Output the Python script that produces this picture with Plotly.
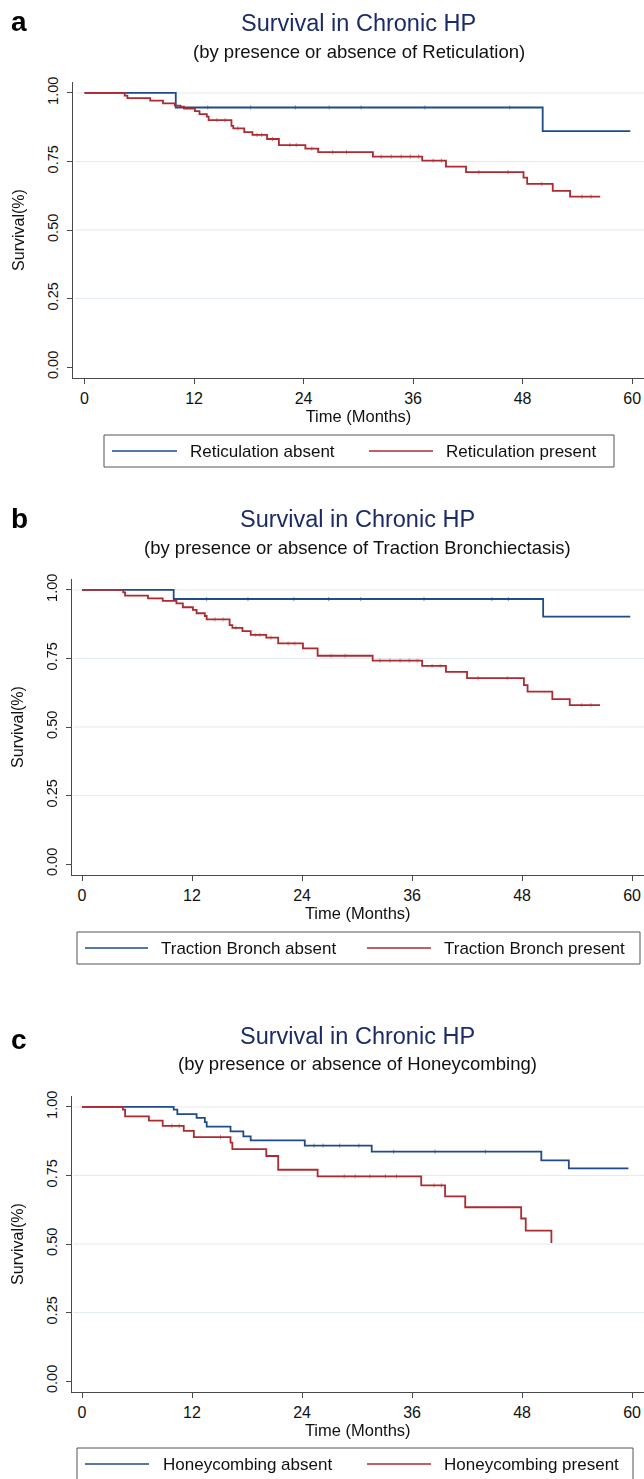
import numpy as np
import plotly.graph_objects as go

# ---------------- data ----------------
x_ticks = [0, 12, 24, 36, 48, 60]
y_ticks = [0.0, 0.25, 0.5, 0.75, 1.0]
y_ticklabels = ["0.00", "0.25", "0.50", "0.75", "1.00"]
grid_values = [0.25, 0.5, 0.75, 1.0]

panel_letters = ["a", "b", "c"]
titles = ["Survival in Chronic HP"] * 3
subtitles = [
    "(by presence or absence of Reticulation)",
    "(by presence or absence of Traction Bronchiectasis)",
    "(by presence or absence of Honeycombing)",
]
names_absent = ["Reticulation absent", "Traction Bronch absent", "Honeycombing absent"]
names_present = ["Reticulation present", "Traction Bronch present", "Honeycombing present"]

# Panel a: Reticulation
ret_abs_t = [0, 10.0, 50.2, 59.8]
ret_abs_s = [1.0, 0.947, 0.861, 0.861]
ret_abs_cens = [13.5, 18.2, 23.1, 26.8, 30.3, 37.3, 46.6]
ret_pre_t = [0, 4.4, 4.7, 7.2, 8.6, 9.9, 10.5, 10.9, 12.1, 12.6, 13.4, 13.6, 16.1, 16.3,
             17.5, 18.4, 20.0, 21.3, 24.2, 25.6, 31.6, 37.0, 39.6, 41.8, 48.1, 48.5,
             51.3, 53.2, 56.5]
ret_pre_s = [1.0, 0.990, 0.981, 0.972, 0.962, 0.954, 0.950, 0.943, 0.934, 0.923, 0.914,
             0.901, 0.880, 0.871, 0.857, 0.847, 0.832, 0.810, 0.797, 0.784, 0.768, 0.753,
             0.731, 0.711, 0.691, 0.668, 0.643, 0.622, 0.622]
ret_pre_cens = [14.5, 15.4, 16.8, 18.9, 19.4, 20.6, 22.5, 23.2, 24.9, 27.2, 28.7, 32.5,
                33.6, 34.7, 35.7, 36.6, 38.2, 39.1, 43.2, 46.4, 50.1, 54.5, 55.5]

# Panel b: Traction bronchiectasis
tb_abs_t = [0, 10.0, 50.3, 59.8]
tb_abs_s = [1.0, 0.967, 0.903, 0.903]
tb_abs_cens = [13.6, 18.1, 23.1, 26.9, 30.4, 37.3, 44.7, 46.5]
tb_pre_t = [0, 4.5, 4.7, 7.2, 8.8, 10.3, 11.0, 12.1, 12.5, 13.4, 13.6, 16.1, 16.4, 17.5,
            18.4, 20.1, 21.4, 24.1, 25.7, 31.7, 37.1, 39.7, 42.0, 48.2, 48.6, 51.3,
            53.2, 56.5]
tb_pre_s = [1.0, 0.991, 0.979, 0.969, 0.960, 0.951, 0.937, 0.927, 0.915, 0.905, 0.893,
            0.872, 0.862, 0.850, 0.836, 0.826, 0.805, 0.787, 0.760, 0.742, 0.723, 0.701,
            0.678, 0.653, 0.629, 0.602, 0.580, 0.580]
tb_pre_cens = [14.5, 15.4, 16.8, 18.9, 19.4, 20.6, 22.5, 23.2, 27.2, 28.7, 32.5, 33.6,
               34.7, 35.7, 36.6, 38.2, 39.1, 43.2, 46.4, 54.5, 55.5]

# Panel c: Honeycombing
hc_abs_t = [0, 10.0, 10.4, 12.5, 13.4, 13.6, 16.2, 17.6, 18.4, 24.3, 31.6, 50.1, 53.1, 59.6]
hc_abs_s = [1.0, 0.990, 0.974, 0.960, 0.945, 0.928, 0.911, 0.893, 0.878, 0.859, 0.837,
            0.805, 0.776, 0.776]
hc_abs_cens = [25.3, 26.3, 28.1, 30.2, 34.0, 38.5, 44.0]
hc_pre_t = [0, 4.45, 4.7, 7.3, 8.8, 11.1, 12.2, 16.2, 16.4, 20.1, 21.4, 25.7, 37.0, 39.6,
            41.8, 47.9, 48.4, 51.2]
hc_pre_s = [1.0, 0.990, 0.966, 0.950, 0.931, 0.913, 0.890, 0.870, 0.846, 0.821, 0.771,
            0.747, 0.714, 0.674, 0.634, 0.593, 0.549, 0.504]
hc_pre_cens = [9.8, 10.6, 15.1, 28.6, 29.8, 31.4, 33.1, 34.3, 38.4, 39.2]

series = [
    ((ret_abs_t, ret_abs_s, ret_abs_cens), (ret_pre_t, ret_pre_s, ret_pre_cens)),
    ((tb_abs_t, tb_abs_s, tb_abs_cens), (tb_pre_t, tb_pre_s, tb_pre_cens)),
    ((hc_abs_t, hc_abs_s, hc_abs_cens), (hc_pre_t, hc_pre_s, hc_pre_cens)),
]

# ---------------- style / layout ----------------
W, H = 644, 1479
FONT = "Liberation Sans, Arial, Helvetica, sans-serif"
BLUE = "#214a8c"
RED = "#ad2a31"
NAVY = "#1c2b68"
GRID = "#e2ebef"
AX = "#4a4a4a"

geom = [
    dict(x0=73, top=82, bottom=378, xr=[-1.26, 61.3], title_y=23.5, sub_y=52, letter_y=21,
         leg=dict(box=(104, 614, 435, 467), s1=(112, 177), t1=188, s2=(369, 433), t2=444)),
    dict(x0=71.5, top=579, bottom=875, xr=[-1.145, 61.3], title_y=519, sub_y=547, letter_y=518,
         leg=dict(box=(77, 640, 932, 964), s1=(85, 148), t1=159, s2=(367, 431), t2=442)),
    dict(x0=71.5, top=1096, bottom=1392, xr=[-1.145, 61.3], title_y=1036, sub_y=1063, letter_y=1039,
         leg=dict(box=(77, 633, 1448, 1482), s1=(85, 149), t1=161, s2=(367, 431), t2=442)),
]


def fx(p):
    return p / W


def fy(p):
    return 1 - p / H


def step_value(t, s, at):
    t = np.asarray(t)
    s = np.asarray(s)
    idx = np.searchsorted(t, at, side="right") - 1
    return s[np.clip(idx, 0, len(s) - 1)]


fig = go.Figure()
shapes = []
annotations = []

for i, g in enumerate(geom):
    n = "" if i == 0 else str(i + 1)
    xa, ya = "x" + n, "y" + n
    for (t, s, c), color, name in zip(series[i], [BLUE, RED],
                                      [names_absent[i], names_present[i]]):
        fig.add_trace(go.Scatter(
            x=t, y=s, mode="lines", name=name, xaxis=xa, yaxis=ya,
            line=dict(shape="hv", color=color, width=1.8), showlegend=False,
            hoverinfo="skip"))
        fig.add_trace(go.Scatter(
            x=c, y=step_value(t, s, c), mode="markers", xaxis=xa, yaxis=ya,
            marker=dict(symbol="line-ns", size=3, line=dict(width=0.8, color=color)),
            opacity=0.7, showlegend=False, hoverinfo="skip"))

    fig.update_layout(**{
        "xaxis" + n: dict(
            domain=[fx(g["x0"]), 1.0], range=g["xr"], anchor=ya, automargin=False,
            tickmode="array", tickvals=x_ticks, ticks="outside", ticklen=5,
            tickcolor=AX, tickwidth=1, showline=True, linecolor=AX, linewidth=1,
            showgrid=False, zeroline=False, ticklabelstandoff=1,
            tickfont=dict(family=FONT, size=16, color="#111"),
            title=dict(text="Time (Months)", font=dict(family=FONT, size=16.5, color="#111"),
                       standoff=0)),
        "yaxis" + n: dict(
            domain=[fy(g["bottom"]), fy(g["top"])], range=[-0.04, 1.04], anchor=xa,
            automargin=False,
            tickmode="array", tickvals=y_ticks, ticktext=y_ticklabels, tickangle=-90,
            ticks="outside", ticklen=5, tickcolor=AX, tickwidth=1, showline=True,
            linecolor=AX, linewidth=1, showgrid=False, zeroline=False,
            ticklabelstandoff=3,
            tickfont=dict(family=FONT, size=14.5, color="#111"),
            title=dict(text="Survival(%)", font=dict(family=FONT, size=16, color="#111"),
                       standoff=16)),
    })

    for v in grid_values:
        shapes.append(dict(type="line", xref=xa + " domain", yref=ya, x0=0.003, x1=1,
                           y0=v, y1=v, line=dict(color=GRID, width=1), layer="below"))

    cx = fx((g["x0"] + W) / 2)
    annotations.append(dict(text=titles[i], x=cx, y=fy(g["title_y"]), xref="paper",
                            yref="paper", showarrow=False, xanchor="center", yanchor="middle",
                            font=dict(family=FONT, size=23.5, color=NAVY)))
    annotations.append(dict(text=subtitles[i], x=cx, y=fy(g["sub_y"]), xref="paper",
                            yref="paper", showarrow=False, xanchor="center", yanchor="middle",
                            font=dict(family=FONT, size=18.5, color="#111")))
    annotations.append(dict(text="<b>%s</b>" % panel_letters[i], x=fx(19), y=fy(g["letter_y"]),
                            xref="paper", yref="paper", showarrow=False, xanchor="center",
                            yanchor="middle", font=dict(family=FONT, size=28, color="#000")))

    # legend box (drawn to match the reference's long sample lines)
    L = g["leg"]
    bx0, bx1, by0, by1 = L["box"]
    shapes.append(dict(type="rect", xref="paper", yref="paper", x0=fx(bx0), x1=fx(bx1),
                       y0=fy(by1), y1=fy(by0), line=dict(color="#555", width=1),
                       fillcolor="rgba(0,0,0,0)"))
    ym = fy(by0 + 16)
    for (sx0, sx1), tx, color, label in [(L["s1"], L["t1"], BLUE, names_absent[i]),
                                         (L["s2"], L["t2"], RED, names_present[i])]:
        shapes.append(dict(type="line", xref="paper", yref="paper", x0=fx(sx0), x1=fx(sx1),
                           y0=ym, y1=ym, line=dict(color=color, width=1.3)))
        annotations.append(dict(text=label, x=fx(tx), y=ym, xref="paper", yref="paper",
                                showarrow=False, xanchor="left", yanchor="middle",
                                font=dict(family=FONT, size=17, color="#111")))

fig.update_layout(
    width=W, height=H, margin=dict(l=0, r=0, t=0, b=0, autoexpand=False),
    paper_bgcolor="white", plot_bgcolor="white",
    shapes=shapes, annotations=annotations, showlegend=False,
    font=dict(family=FONT),
)

# remove the browser's default 8px page margin so the figure sits at (0, 0)
fig.write_html("out.html",
               config={"displayModeBar": False},
               post_script="document.body.style.margin='0';document.body.style.padding='0';"
                           "document.documentElement.style.overflow='hidden';")
